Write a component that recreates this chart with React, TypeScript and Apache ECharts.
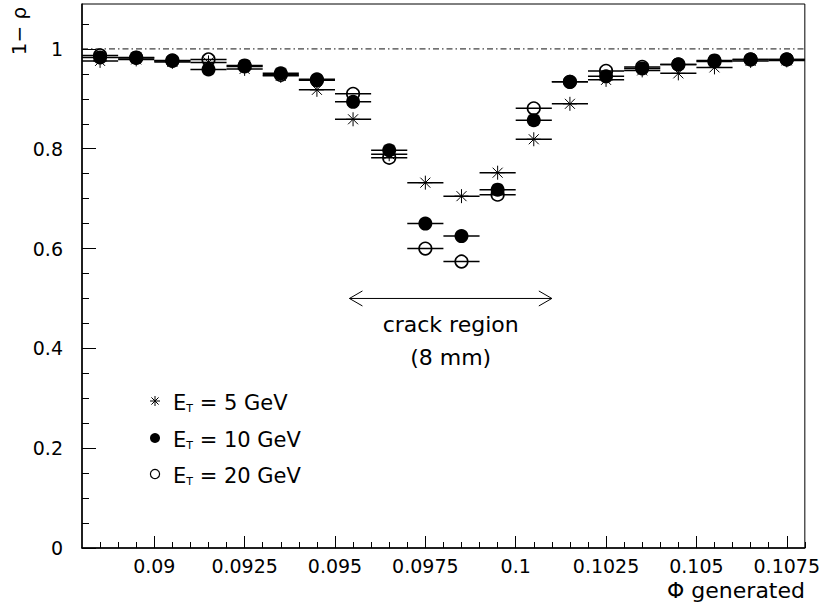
import { useEffect, useRef } from "react";
import * as echarts from "echarts";

// Bin centres of the generated azimuth Φ
const PHI = [
  0.0885, 0.0895, 0.0905, 0.0915, 0.0925, 0.0935, 0.0945, 0.0955, 0.0965, 0.0975,
  0.0985, 0.0995, 0.1005, 0.1015, 0.1025, 0.1035, 0.1045, 0.1055, 0.1065, 0.1075,
];
// 1 - rho for E_T = 5 GeV (stars)
const ET5 = [
  0.976, 0.979, 0.974, 0.973, 0.96, 0.946, 0.918, 0.859, 0.789, 0.732,
  0.705, 0.752, 0.819, 0.89, 0.938, 0.957, 0.951, 0.963, 0.976, 0.977,
];
// 1 - rho for E_T = 10 GeV (filled circles)
const ET10 = [
  0.983, 0.983, 0.976, 0.959, 0.967, 0.951, 0.939, 0.894, 0.797, 0.65,
  0.625, 0.718, 0.857, 0.934, 0.945, 0.961, 0.969, 0.977, 0.979, 0.979,
];
// 1 - rho for E_T = 20 GeV (open circles)
const ET20 = [
  0.987, 0.982, 0.977, 0.979, 0.965, 0.948, 0.937, 0.91, 0.782, 0.6,
  0.574, 0.708, 0.881, 0.934, 0.956, 0.964, 0.969, 0.975, 0.979, 0.979,
];
const BIN_WIDTH = 0.001;

const X_MIN = 0.088;
const X_MAX = 0.108;
const Y_MIN = 0;
const Y_MAX = 1.09;
const X_MAJOR = [0.09, 0.0925, 0.095, 0.0975, 0.1, 0.1025, 0.105, 0.1075];
const Y_MAJOR = [0, 0.2, 0.4, 0.6, 0.8, 1];
const X_MINOR_STEP = 0.0005;
const Y_MINOR_STEP = 0.05;
const REF_LEVEL = 1;

const CRACK_FROM = 0.0954;
const CRACK_TO = 0.101;
const CRACK_Y = 0.5;
const CRACK_TEXT_Y = [0.447, 0.381];
const CRACK_TEXTS = ["crack region", "(8 mm)"];

const LEGEND_LABELS = ["5 GeV", "10 GeV", "20 GeV"];
const LEGEND_KINDS = ["star", "filled", "open"];

const FONT = "DejaVu Sans";

const X_MINOR: number[] = [];
for (let v = 0.0885; v <= X_MAX + 1e-9; v += X_MINOR_STEP) X_MINOR.push(+v.toFixed(5));
const Y_MINOR: number[] = [];
for (let v = 0; v <= 1.05 + 1e-9; v += Y_MINOR_STEP) Y_MINOR.push(+v.toFixed(3));

function starLines(cx: number, cy: number, r: number, d: number, lw: number) {
  const s = { stroke: "#000", lineWidth: lw };
  return [
    { type: "line", shape: { x1: cx, y1: cy - r, x2: cx, y2: cy + r }, style: s },
    { type: "line", shape: { x1: cx - r, y1: cy, x2: cx + r, y2: cy }, style: s },
    { type: "line", shape: { x1: cx - d, y1: cy - d, x2: cx + d, y2: cy + d }, style: s },
    { type: "line", shape: { x1: cx - d, y1: cy + d, x2: cx + d, y2: cy - d }, style: s },
  ];
}

function makeRender(kind: string) {
  return (_params: any, api: any) => {
    const x = api.value(0);
    const y = api.value(1);
    const a = api.coord([x - BIN_WIDTH / 2, y]);
    const b = api.coord([x + BIN_WIDTH / 2, y]);
    const c = api.coord([x, y]);
    const children: any[] = [
      {
        type: "line",
        shape: { x1: a[0], y1: a[1], x2: b[0], y2: b[1] },
        style: { stroke: "#000", lineWidth: 1.5 },
      },
    ];
    if (kind === "filled") {
      children.push({ type: "circle", shape: { cx: c[0], cy: c[1], r: 7 }, style: { fill: "#000" } });
    } else if (kind === "open") {
      children.push({
        type: "circle",
        shape: { cx: c[0], cy: c[1], r: 6.3 },
        style: { fill: "none", stroke: "#000", lineWidth: 1.6 },
      });
    } else {
      children.push(...starLines(c[0], c[1], 7, 5, 1));
    }
    return { type: "group", children };
  };
}

export default function App() {
  const ref = useRef<HTMLDivElement>(null);
  useEffect(() => {
    if (!ref.current) return;
    const chart = echarts.init(ref.current, null, { renderer: "svg" });
    const toPts = (vals: number[]) => PHI.map((p, i) => [p, vals[i]]);
    const labelStyle = { color: "#000", fontFamily: FONT, fontSize: 19 };
    chart.setOption({
      animation: false,
      backgroundColor: "#fff",
      grid: { left: 82, right: 16, top: 4, bottom: 57, show: true, borderColor: "#000", borderWidth: 1 },
      xAxis: [
        {
          type: "value",
          min: X_MIN,
          max: X_MAX,
          position: "bottom",
          axisLine: { show: true, onZero: false, lineStyle: { color: "#000", width: 1.5 } },
          axisTick: { show: true, inside: true, length: 12, customValues: X_MAJOR, lineStyle: { color: "#000", width: 1 } },
          axisLabel: {
            show: true,
            margin: 8,
            customValues: X_MAJOR,
            formatter: (v: number) => String(Number(v.toPrecision(6))),
            ...labelStyle,
          },
          splitLine: { show: false },
        },
        {
          type: "value",
          min: X_MIN,
          max: X_MAX,
          position: "bottom",
          axisLine: { show: false, onZero: false },
          axisTick: { show: true, inside: true, length: 6, customValues: X_MINOR, lineStyle: { color: "#000", width: 1 } },
          axisLabel: { show: false },
          splitLine: { show: false },
        },
      ],
      yAxis: [
        {
          type: "value",
          min: Y_MIN,
          max: Y_MAX,
          position: "left",
          axisLine: { show: true, onZero: false, lineStyle: { color: "#000", width: 1.5 } },
          axisTick: { show: true, inside: true, length: 14, customValues: Y_MAJOR, lineStyle: { color: "#000", width: 1 } },
          axisLabel: {
            show: true,
            margin: 19,
            customValues: Y_MAJOR,
            formatter: (v: number) => String(Number(v.toPrecision(6))),
            ...labelStyle,
          },
          splitLine: { show: false },
        },
        {
          type: "value",
          min: Y_MIN,
          max: Y_MAX,
          position: "left",
          axisLine: { show: false, onZero: false },
          axisTick: { show: true, inside: true, length: 7, customValues: Y_MINOR, lineStyle: { color: "#000", width: 1 } },
          axisLabel: { show: false },
          splitLine: { show: false },
        },
      ],
      series: [
        {
          type: "line",
          name: "reference",
          data: [
            [X_MIN, REF_LEVEL],
            [X_MAX, REF_LEVEL],
          ],
          showSymbol: false,
          silent: true,
          lineStyle: { color: "#111", width: 1, type: [6, 3, 1.5, 3] },
          z: 1,
        },
        {
          type: "custom",
          name: "E_T = 20 GeV",
          coordinateSystem: "cartesian2d",
          data: toPts(ET20),
          renderItem: makeRender("open"),
          z: 2,
        },
        {
          type: "custom",
          name: "E_T = 5 GeV",
          coordinateSystem: "cartesian2d",
          data: toPts(ET5),
          renderItem: makeRender("star"),
          z: 3,
        },
        {
          type: "custom",
          name: "E_T = 10 GeV",
          coordinateSystem: "cartesian2d",
          data: toPts(ET10),
          renderItem: makeRender("filled"),
          z: 4,
        },
      ],
    });

    const p0 = chart.convertToPixel({ gridIndex: 0 }, [CRACK_FROM, CRACK_Y]) as number[];
    const p1 = chart.convertToPixel({ gridIndex: 0 }, [CRACK_TO, CRACK_Y]) as number[];
    const midX = (p0[0] + p1[0]) / 2;
    const arrowStyle = { stroke: "#000", lineWidth: 1, fill: "none" };
    const textEls = CRACK_TEXTS.map((t, i) => {
      const py = (chart.convertToPixel({ gridIndex: 0 }, [CRACK_FROM, CRACK_TEXT_Y[i]]) as number[])[1];
      return {
        type: "text",
        x: midX,
        y: py,
        style: { text: t, fill: "#000", font: `22px '${FONT}'`, align: "center", verticalAlign: "middle" },
      };
    });

    const legendRowsY = [401, 438, 474];
    const legendEls: any[] = [];
    LEGEND_KINDS.forEach((k, i) => {
      const cy = legendRowsY[i];
      const cx = 155;
      if (k === "star") legendEls.push(...starLines(cx, cy, 5, 3.6, 1));
      else if (k === "filled") legendEls.push({ type: "circle", shape: { cx, cy, r: 5 }, style: { fill: "#000" } });
      else legendEls.push({ type: "circle", shape: { cx, cy, r: 4.6 }, style: { fill: "none", stroke: "#000", lineWidth: 1.2 } });
      legendEls.push({
        type: "text",
        x: 173,
        y: cy + 2,
        style: {
          text: `{e|E}{t|T}{r| = ${LEGEND_LABELS[i]}}`,
          verticalAlign: "middle",
          align: "left",
          fill: "#000",
          rich: {
            e: { fontSize: 21, fontFamily: FONT, fill: "#000", lineHeight: 24, verticalAlign: "middle" },
            t: { fontSize: 11, fontFamily: FONT, fill: "#000", lineHeight: 24, verticalAlign: "bottom", padding: [0, 0, 1, 0] },
            r: { fontSize: 21, fontFamily: FONT, fill: "#000", lineHeight: 24, verticalAlign: "middle" },
          },
        },
      });
    });

    chart.setOption({
      graphic: [
        { type: "line", shape: { x1: p0[0], y1: p0[1], x2: p1[0], y2: p1[1] }, style: arrowStyle },
        {
          type: "polyline",
          shape: { points: [[p0[0] + 13, p0[1] - 7.5], [p0[0], p0[1]], [p0[0] + 13, p0[1] + 7.5]] },
          style: arrowStyle,
        },
        {
          type: "polyline",
          shape: { points: [[p1[0] - 13, p1[1] - 7.5], [p1[0], p1[1]], [p1[0] - 13, p1[1] + 7.5]] },
          style: arrowStyle,
        },
        ...textEls,
        ...legendEls,
        {
          type: "text",
          x: 19,
          y: 31,
          rotation: Math.PI / 2,
          style: { text: "1− ρ", fill: "#000", font: `20px '${FONT}'`, align: "center", verticalAlign: "middle" },
        },
        {
          type: "text",
          x: 805,
          y: 590,
          style: { text: "Φ generated", fill: "#000", font: `22px '${FONT}'`, align: "right", verticalAlign: "middle" },
        },
      ],
    });

    return () => chart.dispose();
  }, []);
  return <div ref={ref} style={{ position: "fixed", left: 0, top: 0, width: 823, height: 605, background: "#fff" }} />;
}
